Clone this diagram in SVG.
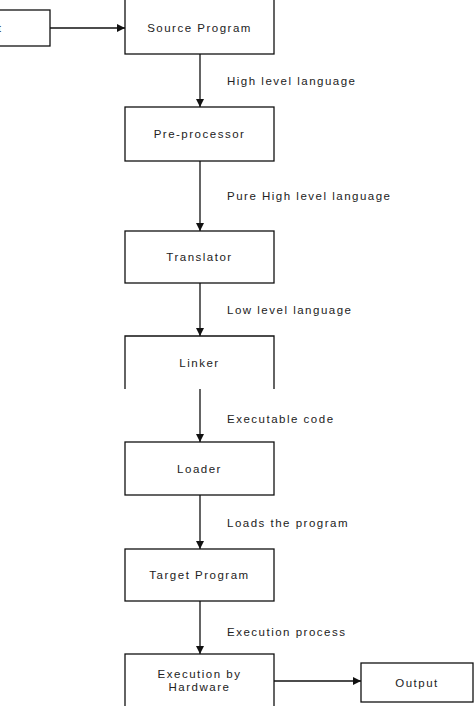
<svg xmlns="http://www.w3.org/2000/svg" width="474" height="706" viewBox="0 0 474 706">
<style>
.box{fill:#fff;stroke:#111;stroke-width:1.3}
.t{font-family:"Liberation Sans",Arial,sans-serif;font-size:11.5px;letter-spacing:1.5px;fill:#222;text-anchor:middle}
.l{font-family:"Liberation Sans",Arial,sans-serif;font-size:11.5px;letter-spacing:1.5px;fill:#222}
.c{stroke:#111;stroke-width:1.3;fill:none;marker-end:url(#ah)}
</style>
<defs>
<marker id="ah" viewBox="0 0 10 10" refX="10" refY="5" markerWidth="8" markerHeight="8" markerUnits="userSpaceOnUse" orient="auto">
<path d="M0,0 L10,5 L0,10 z" fill="#111"/>
</marker>
</defs>
<rect width="474" height="706" fill="#fff"/>
<g id="input"><rect class="box" x="-62" y="10" width="112" height="36"/><text class="t" x="-14" y="32">Input</text></g>
<g id="source"><rect class="box" x="125" y="-10" width="149" height="64"/><text class="t" x="199.5" y="32">Source Program</text></g>
<g id="preprocessor"><rect class="box" x="125" y="107" width="149" height="54"/><text class="t" x="199.5" y="138">Pre-processor</text></g>
<g id="translator"><rect class="box" x="125" y="231" width="149" height="52"/><text class="t" x="199.5" y="261">Translator</text></g>
<g id="linker"><path class="box" d="M125,389 V336 H274 V389" fill="#fff"/><text class="t" x="199.5" y="367">Linker</text></g>
<g id="loader"><rect class="box" x="125" y="442" width="149" height="53"/><text class="t" x="199.5" y="473">Loader</text></g>
<g id="target"><rect class="box" x="125" y="549" width="149" height="52"/><text class="t" x="199.5" y="579">Target Program</text></g>
<g id="execution"><rect class="box" x="125" y="654" width="149" height="60"/><text class="t" x="199.5" y="678">Execution by</text><text class="t" x="199.5" y="691">Hardware</text></g>
<g id="output"><rect class="box" x="361" y="663" width="112" height="39"/><text class="t" x="417" y="687">Output</text></g>
<g id="connectors">
<path class="c" d="M50,28 H125"/>
<path class="c" d="M200,54 V107"/>
<path class="c" d="M200,161 V231"/>
<path class="c" d="M200,283 V336"/>
<path class="c" d="M200,389 V442"/>
<path class="c" d="M200,495 V549"/>
<path class="c" d="M200,601 V654"/>
<path class="c" d="M274,681 H361"/>
<text class="l" x="227" y="85">High level language</text>
<text class="l" x="227" y="200">Pure High level language</text>
<text class="l" x="227" y="314">Low level language</text>
<text class="l" x="227" y="423">Executable code</text>
<text class="l" x="227" y="527">Loads the program</text>
<text class="l" x="227" y="636">Execution process</text>
</g>
</svg>
